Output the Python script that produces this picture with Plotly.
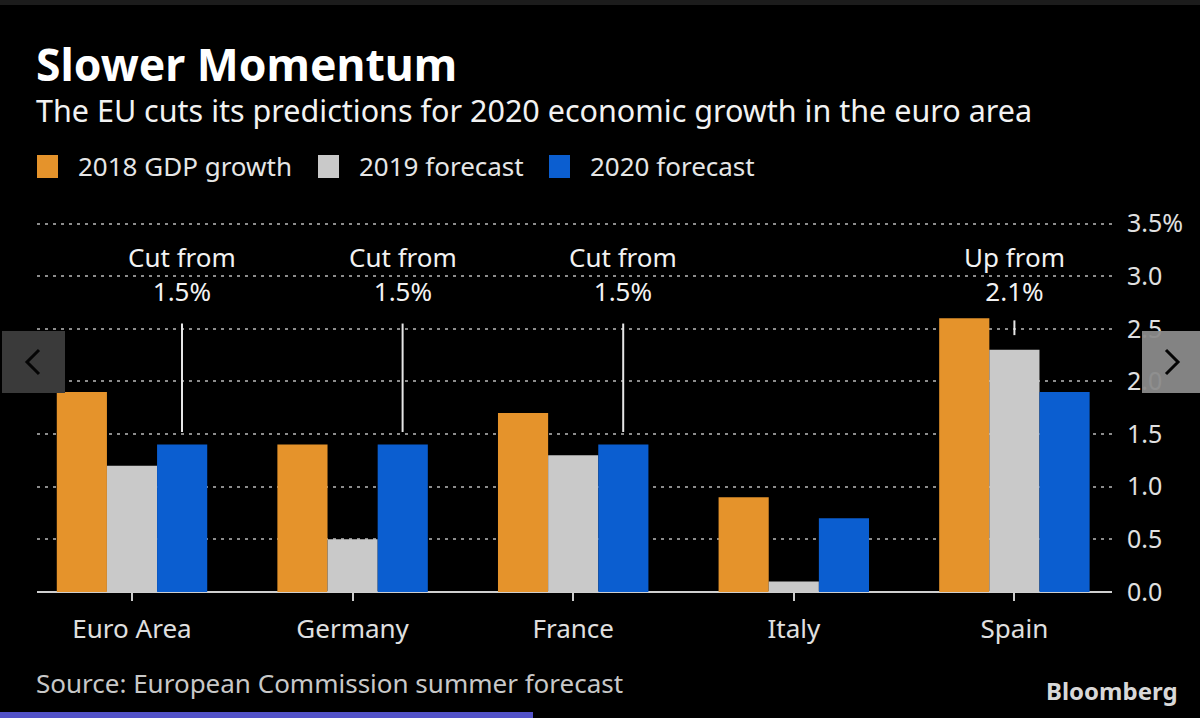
import plotly.graph_objects as go

categories = ["Euro Area", "Germany", "France", "Italy", "Spain"]
series_names = ["2018 GDP growth", "2019 forecast", "2020 forecast"]
gdp_2018 = [1.9, 1.4, 1.7, 0.9, 2.6]
fc_2019 = [1.2, 0.5, 1.3, 0.1, 2.3]
fc_2020 = [1.4, 1.4, 1.4, 0.7, 1.9]
colors = ["#E5932B", "#C9C9C9", "#0B5ED0"]
y_ticks = [0, 0.5, 1.0, 1.5, 2.0, 2.5, 3.0, 3.5]
y_ticktext = ["0.0", "0.5", "1.0", "1.5", "2.0", "2.5", "3.0", "3.5%"]
# annotations: (category index, bar offset, label, line bottom value, line top value)
notes = [
    (0, 1, "Cut from<br>1.5%", 1.52, 2.55),
    (1, 1, "Cut from<br>1.5%", 1.52, 2.55),
    (2, 1, "Cut from<br>1.5%", 1.52, 2.55),
    (4, 0, "Up from<br>2.1%", 2.44, 2.58),
]

W, H = 1200, 718
L, R, T, B = 37, 1112, 213, 592
YMAX = 3.6
STEP = 220.6
BARW = 50 / STEP

def px(xp):
    return (xp - L) / (R - L)

def py(yp):
    return (B - yp) / (B - T)

FONT = "Noto Sans"

fig = go.Figure()
for name, vals, c in zip(series_names, [gdp_2018, fc_2019, fc_2020], colors):
    fig.add_trace(go.Bar(x=categories, y=vals, name=name, marker=dict(color=c, line=dict(width=0)),
                         showlegend=False, hoverinfo="skip"))

shapes = []
annotations = []

# notes
for ci, off, txt, y0, y1 in notes:
    xc = ci + off * BARW
    shapes.append(dict(type="line", xref="x", yref="y", x0=xc, x1=xc, y0=y0, y1=y1,
                       line=dict(color="#E6E6E6", width=2)))
    annotations.append(dict(xref="x", yref="y", x=xc, y=3.02, text=txt, showarrow=False,
                            font=dict(family=FONT, size=26, color="#F2F2F2"),
                            align="center", xanchor="center", yanchor="middle"))

# title, subtitle
annotations.append(dict(xref="paper", yref="paper", x=px(34), y=py(63), text="<b>Slower Momentum</b>",
                        showarrow=False, xanchor="left", yanchor="middle",
                        font=dict(family=FONT, size=44.5, color="#FFFFFF")))
annotations.append(dict(xref="paper", yref="paper", x=px(34), y=py(110),
                        text="The EU cuts its predictions for 2020 economic growth in the euro area",
                        showarrow=False, xanchor="left", yanchor="middle",
                        font=dict(family=FONT, size=30.5, color="#F2F2F2")))
# legend
leg_x = [37, 318, 549]
for lx, name, c in zip(leg_x, series_names, colors):
    shapes.append(dict(type="rect", xref="paper", yref="paper", x0=px(lx), x1=px(lx + 21),
                       y0=py(178), y1=py(155), fillcolor=c, line=dict(width=0)))
    annotations.append(dict(xref="paper", yref="paper", x=px(lx + 39), y=py(166), text=name,
                            showarrow=False, xanchor="left", yanchor="middle",
                            font=dict(family=FONT, size=26, color="#E6E6E6")))
# source + brand
annotations.append(dict(xref="paper", yref="paper", x=px(34), y=py(683),
                        text="Source: European Commission summer forecast", showarrow=False,
                        xanchor="left", yanchor="middle",
                        font=dict(family=FONT, size=26, color="#C8C8C8")))
annotations.append(dict(xref="paper", yref="paper", x=px(1180), y=py(690), text="<b>Bloomberg</b>",
                        showarrow=False, xanchor="right", yanchor="middle",
                        font=dict(family=FONT, size=24, color="#D8D8D8")))

# screenshot frame details
shapes.append(dict(type="rect", xref="paper", yref="paper", x0=px(0), x1=px(1200), y0=py(5), y1=py(0),
                   fillcolor="#1C1C1C", line=dict(width=0), layer="above"))
shapes.append(dict(type="rect", xref="paper", yref="paper", x0=px(0), x1=px(533), y0=py(718), y1=py(712),
                   fillcolor="#5252C8", line=dict(width=0), layer="above"))
shapes.append(dict(type="rect", xref="paper", yref="paper", x0=px(2), x1=px(65), y0=py(393), y1=py(331),
                   fillcolor="#3A3A3A", line=dict(width=0), layer="above"))
shapes.append(dict(type="path", xref="paper", yref="paper",
                   path="M %f,%f L %f,%f L %f,%f" % (px(39), py(350), px(27), py(362), px(39), py(374)),
                   line=dict(color="#050505", width=3), layer="above"))
shapes.append(dict(type="rect", xref="paper", yref="paper", x0=px(1142), x1=px(1200), y0=py(393), y1=py(331),
                   fillcolor="#8A8A8A", line=dict(width=0), layer="above", opacity=0.95))
shapes.append(dict(type="path", xref="paper", yref="paper",
                   path="M %f,%f L %f,%f L %f,%f" % (px(1166), py(350), px(1178), py(362), px(1166), py(374)),
                   line=dict(color="#050505", width=3), layer="above"))

fig.update_layout(
    width=W, height=H,
    margin=dict(l=L, r=W - R, t=T, b=H - B, autoexpand=False),
    paper_bgcolor="#000000", plot_bgcolor="#000000",
    barmode="group", bargap=0.318, bargroupgap=0,
    hovermode=False,
    shapes=shapes, annotations=annotations,
    xaxis=dict(range=[(L - 132) / STEP, (R - 132) / STEP], showgrid=False, showline=False,
               ticks="outside", ticklen=8, tickwidth=1.5, tickcolor="#CCCCCC",
               tickfont=dict(family=FONT, size=26, color="#E0E0E0"), ticklabelstandoff=6),
    yaxis=dict(range=[0, YMAX], side="right", tickvals=y_ticks, ticktext=y_ticktext,
               showgrid=True, gridcolor="#8C8C8C", griddash="3px,5px", gridwidth=2,
               zeroline=True, zerolinecolor="#CFCFCF", zerolinewidth=2,
               showline=False, ticks="", ticklabelstandoff=14,
               tickfont=dict(family=FONT, size=25, color="#E0E0E0")),
)

fig.write_html("out.html", config={"displayModeBar": False},
               post_script="document.body.style.margin='0';document.body.style.background='#000';")
